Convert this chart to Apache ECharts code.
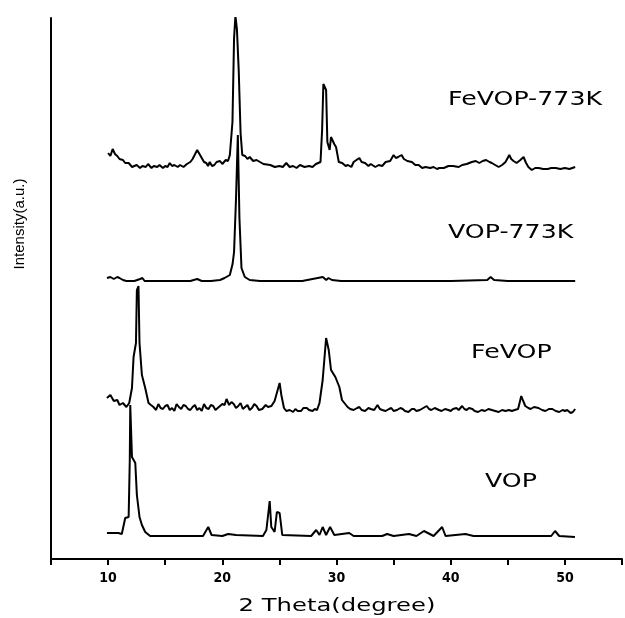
<!DOCTYPE html>
<html>
<head>
<meta charset="utf-8">
<style>
  html, body { margin: 0; padding: 0; background: #fff; }
  #chart { width: 625px; height: 618px; }
</style>
<script src="https://cdn.jsdelivr.net/npm/echarts@6/dist/echarts.min.js"></script>
</head>
<body>
<div id="chart"></div>
<script>
// ---- data: [2theta (degree), intensity (a.u., stacked offset included)] ----
const seriesNames = ['FeVOP-773K', 'VOP-773K', 'FeVOP', 'VOP'];
const xTickLabels = [10, 20, 30, 40, 50];

const feVop773 = [
  [10.0,406],[10.2,403],[10.4,410],[10.6,405],[10.8,403],[11.0,400],[11.3,399],[11.5,396],[11.8,396],
  [12.1,392],[12.5,394],[12.8,391],[13.0,393],[13.3,392],[13.5,395],[13.8,391],
  [14.0,393],[14.3,392],[14.5,394],[14.8,391],[15.0,393],[15.2,392],[15.4,396],[15.6,393],[15.8,394],
  [16.1,392],[16.3,394],[16.6,392],[16.9,395],[17.2,397],[17.4,400],
  [17.8,409],[18.0,405],[18.2,401],[18.4,397],[18.6,396],[18.75,393],[18.9,397],[19.1,393],[19.3,394],
  [19.5,397],[19.8,398],[20.0,395],[20.3,399],[20.5,398],[20.66,404],
  [20.89,437],[21.03,521],[21.15,543],[21.28,530],[21.44,488],[21.6,426],[21.75,404],[22.0,403],
  [22.2,400],[22.4,402],[22.7,398],[23.0,399],[23.3,397],[23.6,395],[24.2,394],[24.6,392],[25.0,393],
  [25.3,392],[25.6,396],[25.9,392],[26.2,393],[26.5,391],[26.8,394],[27.2,392],[27.6,393],
  [27.9,392],[28.2,395],[28.6,397],[28.74,429],[28.85,475],[29.09,469],[29.2,417],[29.4,409],[29.52,422],
  [29.8,415],[29.96,412],[30.2,397],[30.5,396],[30.8,393],[31.0,394],[31.3,392],[31.5,397],[32.0,401],
  [32.2,397],[32.5,396],[32.8,393],[33.0,395],[33.4,392],[33.7,394],[34.0,393],[34.3,397],[34.7,398],
  [35.0,404],[35.2,401],[35.4,402],[35.7,404],[35.9,400],[36.2,398],[36.6,397],
  [36.9,394],[37.2,394],[37.5,391],[37.8,392],[38.2,391],[38.5,392],[38.8,390],[39.0,391],[39.4,391],
  [39.8,393],[40.2,393],[40.7,392],[41.0,394],[41.4,395],[41.85,397],
  [42.2,398],[42.5,396],[42.8,398],[43.1,399],[43.4,397],[43.6,396],[43.9,394],[44.2,392],[44.5,394],
  [44.8,397],[45.13,404],[45.3,400],[45.5,398],[45.77,396],
  [46.1,399],[46.38,402],[46.6,396],[46.8,392],[47.1,389],[47.4,391],[47.7,391],[48.1,390],[48.5,390],
  [48.8,391],[49.2,391],[49.6,390],[50.0,391],[50.4,390],[50.9,392]
];

const vop773 = [
  [9.9,281],[10.2,282],[10.5,280],[10.8,282],[11.0,281],[11.3,279],[11.6,278],[12.3,278],[12.8,280],
  [13.0,281],[13.2,278],[14.0,278],
  [16.0,278],[17.2,278],[17.8,280],[18.2,278],[19.0,278],[19.8,279],[20.2,281],[20.66,284],
  [20.9,295],[21.03,307],[21.2,360],[21.36,424],[21.5,341],[21.68,291],[21.97,282],[22.4,279],
  [23.3,278],[25.0,278],[27.0,278],[28.8,282],[29.1,279],[29.3,281],[29.6,279],[30.4,278],
  [35.0,278],[40.0,278],[43.2,279],[43.5,282],[43.8,279],[45.0,278],[50.9,278]
];

const feVop = [
  [9.9,161],[10.2,164],[10.5,158],[10.8,159],[11.0,154],[11.3,156],[11.6,152],[11.85,156],
  [12.09,171],[12.23,202],[12.44,216],[12.52,269],[12.66,273],[12.75,216],[12.96,184],[13.25,171],
  [13.54,156],[13.75,154],[13.97,152],[14.2,149],[14.4,155],[14.6,151],[14.8,150],[15.0,153],[15.2,154],
  [15.4,149],[15.6,151],[15.8,148],[16.0,155],[16.2,152],[16.4,150],[16.6,154],
  [16.8,153],[17.0,150],[17.2,149],[17.4,152],[17.6,154],[17.8,149],[18.0,151],[18.2,148],[18.4,155],
  [18.6,151],[18.8,150],[19.0,154],[19.2,153],[19.4,149],[19.6,151],[19.8,153],
  [20.0,155],[20.2,154],[20.37,160],[20.6,154],[20.8,157],[21.0,155],[21.2,151],[21.4,153],[21.6,156],
  [21.8,150],[22.0,152],[22.2,154],[22.4,149],[22.6,151],[22.8,155],
  [23.0,153],[23.2,149],[23.5,150],[23.8,154],[24.0,152],[24.3,153],[24.58,158],[25.02,176],[25.17,164],
  [25.4,151],[25.6,148],[25.9,149],[26.2,147],
  [26.4,150],[26.6,148],[26.9,148],[27.1,151],[27.4,151],[27.6,149],[27.9,148],[28.1,150],[28.3,149],
  [28.51,156],[28.79,179],[29.09,221],
  [29.32,209],[29.52,189],[29.9,182],[30.25,172],[30.48,159],[30.97,152],[31.2,150],[31.5,149],[31.8,151],
  [32.0,152],[32.2,149],
  [32.5,148],[32.8,151],[33.0,150],[33.3,149],[33.59,154],[33.8,150],[34.0,149],[34.3,148],[34.6,150],
  [34.8,151],[35.0,148],[35.3,149],[35.6,151],[35.8,150],
  [36.0,148],[36.3,147],[36.6,150],[36.8,150],[37.0,148],[37.3,149],[37.6,151],[37.9,153],[38.1,150],
  [38.3,149],[38.6,151],[38.97,149],[39.2,148],[39.5,150],[39.8,149],[40.0,148],
  [40.2,150],[40.5,151],[40.7,149],[41.0,153],[41.2,150],[41.4,149],[41.6,151],[41.9,150],[42.1,148],
  [42.4,147],[42.7,149],[43.0,148],[43.3,150],[43.6,149],[43.9,148],[44.2,147],
  [44.5,149],[44.8,148],[45.1,149],[45.36,148],[45.6,149],[45.9,150],[46.18,163],[46.35,158],[46.53,153],
  [46.8,151],[47.0,150],[47.3,152],[47.69,151],
  [48.0,149],[48.3,148],[48.6,150],[48.9,150],[49.2,148],[49.5,147],[49.8,149],[50.01,148],[50.2,149],
  [50.5,146],[50.7,147],[50.9,150]
];

const vop = [
  [9.9,26],[10.9,26],[11.2,25],[11.5,41],[11.8,42],[11.9,100],[11.94,154],[12.09,102],
  [12.38,96],[12.52,64],[12.75,42],[12.96,34],[13.25,27],[13.68,23],[15.0,23],[17.0,23],
  [18.31,23],[18.77,32],[19.06,24],[20.0,23],[20.51,25],[21.2,24],[23.56,23],[23.86,29],
  [24.15,58],[24.29,32],[24.58,27],[24.78,47],[25.02,46],[25.25,24],[27.78,23],[28.22,29],
  [28.51,24],[28.79,32],[29.09,24],[29.44,32],[29.81,24],[31.12,26],[31.5,23],[34.0,23],
  [34.43,25],[35.0,23],[36.35,25],[37.0,23],[37.66,28],[38.5,23],[39.25,32],[39.55,23],
  [41.29,25],[42.0,23],[48.8,23],[49.14,28],[49.5,23],[50.88,22]
];

const chart = echarts.init(document.getElementById('chart'), null, { renderer: 'canvas' });

const lineSeries = (name, data) => ({
  name, type: 'line', data, showSymbol: false, symbol: 'none',
  lineStyle: { color: '#000', width: 2 }, silent: true, animation: false
});

const seriesLabel = (text, x, y) => ({
  type: 'text', x, y, scaleX: 1.33,
  style: { text, fontFamily: 'DejaVu Sans', fontSize: 19, fill: '#000', align: 'left', verticalAlign: 'middle' }
});

chart.setOption({
  backgroundColor: '#fff',
  animation: false,
  grid: { left: 51, right: 2, top: 18, bottom: 59 },
  xAxis: {
    type: 'value', min: 5, max: 55, interval: 5,
    axisLine: { show: true, lineStyle: { color: '#000', width: 2 } },
    axisTick: { show: true, inside: false, length: 6, lineStyle: { color: '#000', width: 2 } },
    axisLabel: {
      color: '#000', fontFamily: 'DejaVu Sans Condensed', fontWeight: 'bold', fontSize: 14, margin: 12,
      formatter: v => (xTickLabels.indexOf(v) >= 0 ? String(v) : '')
    },
    splitLine: { show: false }
  },
  yAxis: {
    type: 'value', min: 0, max: 541,
    axisLine: { show: true, lineStyle: { color: '#000', width: 2 } },
    axisTick: { show: false }, axisLabel: { show: false }, splitLine: { show: false }
  },
  series: [
    lineSeries(seriesNames[0], feVop773),
    lineSeries(seriesNames[1], vop773),
    lineSeries(seriesNames[2], feVop),
    lineSeries(seriesNames[3], vop)
  ],
  graphic: [
    seriesLabel(seriesNames[0], 448, 100),
    seriesLabel(seriesNames[1], 448, 233),
    seriesLabel(seriesNames[2], 471, 353),
    seriesLabel(seriesNames[3], 485, 482),
    { type: 'text', x: 337, y: 606, scaleX: 1.35,
      style: { text: '2 Theta(degree)', fontFamily: 'DejaVu Sans', fontSize: 18, fill: '#000',
               align: 'center', verticalAlign: 'middle' } },
    { type: 'text', x: 20, y: 224, rotation: Math.PI / 2,
      style: { text: 'Intensity(a.u.)', fontFamily: 'Liberation Sans', fontSize: 15, fill: '#000',
               align: 'center', verticalAlign: 'middle' } }
  ]
});
</script>
</body>
</html>
